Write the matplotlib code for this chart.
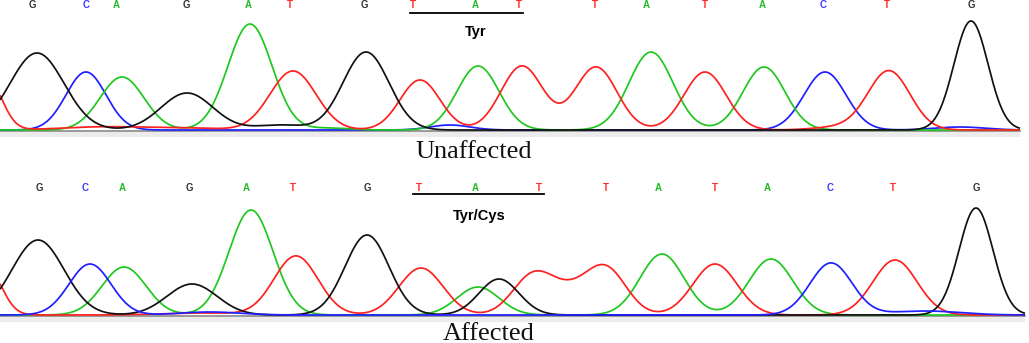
import numpy as np
import matplotlib
matplotlib.use("Agg")
import matplotlib.pyplot as plt

# ---------------- data ----------------
# peak tables per channel: centre (scan position), height (signal), width (sigma)
top_G_pos = [37, 187, 280, 366, 971]
top_G_hgt = [77, 37, 5, 78, 109]
top_G_wid = [27, 26, 25, 23, 17]

top_C_pos = [86, 450, 825, 960]
top_C_hgt = [58, 5, 58, 3]
top_C_wid = [20, 20, 21, 25]

top_A_pos = [122, 250, 330, 478, 651, 764]
top_A_hgt = [53, 106, 2, 64, 78, 63]
top_A_wid = [22, 22, 20, 21, 22, 21]

top_T_pos = [-12, 100, 180, 293, 420, 522, 596, 705, 840, 889]
top_T_hgt = [50, 3, 2, 59, 50, 64, 63, 58, 3, 59]
top_T_wid = [14, 40, 40, 23, 20, 21, 21, 21, 25, 21]

bot_G_pos = [38, 192, 367, 499, 976]
bot_G_hgt = [75, 31, 80, 36, 107]
bot_G_wid = [26, 25, 22, 20, 17]

bot_C_pos = [90, 210, 831, 925]
bot_C_hgt = [51, 3, 52, 4]
bot_C_wid = [21, 30, 21, 35]

bot_A_pos = [124, 251, 478, 662, 771]
bot_A_hgt = [48, 105, 28, 61, 56]
bot_A_wid = [22, 22, 21, 22, 22]

bot_T_pos = [-12, 200, 296, 421, 532, 570, 607, 715, 895]
bot_T_hgt = [45, 2, 59, 47, 36, 22, 42, 51, 55]
bot_T_wid = [14, 40, 22, 22, 20, 25, 20, 22, 22]

# base calls
top_bases = list("GCAGATGTATTATACTG")
top_base_x = [32, 86, 116, 186, 248, 290, 364, 413, 475, 519, 595, 646, 705, 762, 823, 887, 971]
bot_bases = list("GCAGATGTATTATACTG")
bot_base_x = [39, 85, 122, 189, 246, 293, 367, 419, 475, 539, 606, 658, 715, 767, 830, 893, 976]

top_codon = (410, 523)
bot_codon = (413, 544)
top_codon_label = "Tyr"
bot_codon_label = "Tyr/Cys"
top_title = "Unaffected"
bot_title = "Affected"

# ---------------- styling ----------------
trace_col = {"G": "#111111", "C": "#1f1fff", "A": "#1fc81f", "T": "#ff2020"}
base_col = {"G": "#333333", "C": "#3b3bff", "A": "#22bb22", "T": "#ff2a2a"}

W, H = 1029, 343
fig = plt.figure(figsize=(W / 100, H / 100), dpi=100)
fig.patch.set_facecolor("white")

ax_top = fig.add_axes([0, 1 - 170 / H, 1, 170 / H])
ax_bot = fig.add_axes([0, 0, 1, 173 / H])
ax_top.set_xlim(0, W)
ax_top.set_ylim(-40, 130)
ax_bot.set_xlim(0, W)
ax_bot.set_ylim(-28, 145)
for a in (ax_top, ax_bot):
    a.axis("off")


def trace(x, pos, hgt, wid):
    y = np.zeros_like(x)
    for p, h, w in zip(pos, hgt, wid):
        y += h * np.exp(-0.5 * ((x - p) / w) ** 2)
    return y


def draw_panel(ax, xmax, chans, bases, base_x, codon, codon_label, title,
               letter_y, line_y, label_x, label_y, title_x, title_y):
    x = np.linspace(0, xmax, 2500)
    ax.axhspan(-7, -1.5, xmin=0, xmax=xmax / W, color="#ececec", lw=0, zorder=0)
    ax.plot([0, xmax], [-0.8, -0.8], color="#888888", lw=1.2, zorder=1)
    for key, (pos, hgt, wid) in chans.items():
        ax.plot(x, trace(x, pos, hgt, wid), color=trace_col[key], lw=1.25,
                zorder=2, solid_capstyle="butt")
    for b, bx in zip(bases, base_x):
        ax.text(bx, letter_y, b, color=base_col[b], ha="center", va="center",
                fontsize=7, fontweight="bold", family="Liberation Sans")
    ax.plot(codon, [line_y, line_y], color="black", lw=1.3)
    ax.text(label_x, label_y, codon_label, ha="center",
            va="center", fontsize=10.5, fontweight="bold", family="Liberation Sans")
    ax.text(title_x, title_y, title, ha="center", va="center", fontsize=19,
            family="Liberation Serif", color="#111111")


draw_panel(ax_top, 1020,
           {"C": (top_C_pos, top_C_hgt, top_C_wid),
            "A": (top_A_pos, top_A_hgt, top_A_wid),
            "T": (top_T_pos, top_T_hgt, top_T_wid),
            "G": (top_G_pos, top_G_hgt, top_G_wid)},
           top_bases, top_base_x, top_codon, top_codon_label, top_title,
           125, 117, 476, 98, 474, -22)

draw_panel(ax_bot, 1025,
           {"A": (bot_A_pos, bot_A_hgt, bot_A_wid),
            "T": (bot_T_pos, bot_T_hgt, bot_T_wid),
            "G": (bot_G_pos, bot_G_hgt, bot_G_wid),
            "C": (bot_C_pos, bot_C_hgt, bot_C_wid)},
           bot_bases, bot_base_x, bot_codon, bot_codon_label, bot_title,
           127, 121, 479, 99, 489, -19)

fig.savefig("out.png", dpi=100, facecolor="white")
